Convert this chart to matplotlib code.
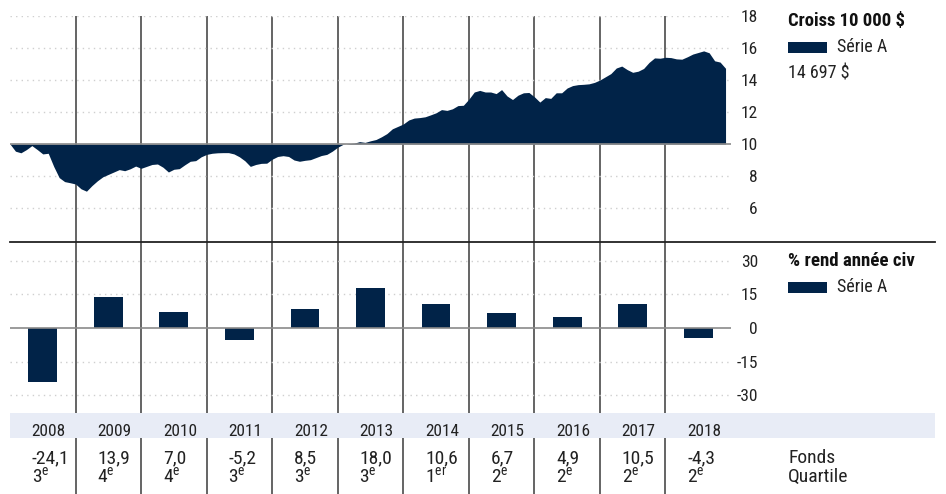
import matplotlib
matplotlib.use("Agg")
import matplotlib.pyplot as plt
from matplotlib import font_manager as fm
from matplotlib.lines import Line2D
from matplotlib.patches import Rectangle

# ---------------- data ----------------
years = [2008, 2009, 2010, 2011, 2012, 2013, 2014, 2015, 2016, 2017, 2018]
annual_returns = [-24.1, 13.9, 7.0, -5.2, 8.5, 18.0, 10.6, 6.7, 4.9, 10.5, -4.3]
return_labels = ["-24,1", "13,9", "7,0", "-5,2", "8,5", "18,0", "10,6", "6,7", "4,9", "10,5", "-4,3"]
quartile_nums = ["3", "4", "4", "3", "3", "3", "1", "2", "2", "2", "2"]
quartile_sups = ["e", "e", "e", "e", "e", "e", "er", "e", "e", "e", "e"]
# growth of 10 000 $ (thousands), monthly from Jan 2008
growth = [
    10.00, 9.55, 9.45, 9.65, 9.90, 9.65, 9.38, 9.42, 8.60, 7.90, 7.65, 7.58,
    7.50, 7.20, 7.05, 7.40, 7.70, 7.95, 8.10, 8.25, 8.40, 8.33, 8.45, 8.62,
    8.48, 8.60, 8.72, 8.75, 8.55, 8.25, 8.42, 8.46, 8.70, 8.92, 8.96, 9.20,
    9.35, 9.42, 9.45, 9.46, 9.46, 9.38, 9.20, 8.95, 8.60, 8.72, 8.79, 8.80,
    9.05, 9.22, 9.27, 9.22, 9.00, 8.92, 8.98, 9.02, 9.15, 9.28, 9.35, 9.55,
    9.80, 9.98, 10.02, 10.05, 10.15, 10.10, 10.20, 10.28, 10.45, 10.65, 10.95, 11.10,
    11.25, 11.50, 11.62, 11.65, 11.70, 11.82, 11.95, 12.15, 12.10, 12.20, 12.40, 12.42,
    12.80, 13.25, 13.35, 13.25, 13.25, 13.15, 13.40, 13.00, 12.78, 13.05, 13.20, 13.22,
    12.95, 12.62, 12.90, 12.85, 13.20, 13.20, 13.50, 13.65, 13.71, 13.73, 13.76, 13.85,
    14.00, 14.20, 14.40, 14.75, 14.87, 14.65, 14.48, 14.55, 14.72, 15.10, 15.38, 15.36,
    15.42, 15.40, 15.32, 15.30, 15.45, 15.62, 15.72, 15.82, 15.70, 15.20, 15.12, 14.73,
]
top_ticks = [6, 8, 10, 12, 14, 16, 18]
bot_ticks = [-30, -15, 0, 15, 30]
title_top = "Croiss 10 000 $"
title_bot = "% rend année civ"
series_name = "Série A"
final_value = "14 697 $"

# ---------------- font choice (prefer a narrow sans) ----------------
installed = {f.name for f in fm.fontManager.ttflist}
narrow = [n for n in ["Roboto Condensed", "Liberation Sans Narrow", "Open Sans Condensed",
                      "Noto Sans Condensed", "DejaVu Sans Condensed"] if n in installed]
stretch = "normal"
if narrow:
    main_font = narrow[0]
    scale = 1.0
elif any(f.name == "DejaVu Sans" and str(f.stretch) in ("condensed", "semi-condensed")
         for f in fm.fontManager.ttflist):
    main_font = "DejaVu Sans"
    stretch = "condensed"
    scale = 0.9
else:
    main_font = "Roboto"
    scale = 0.9

FONT = [main_font, "DejaVu Sans"]
plt.rcParams["font.family"] = FONT
plt.rcParams["font.stretch"] = stretch
plt.rcParams["mathtext.fontset"] = "custom"
plt.rcParams["mathtext.rm"] = main_font
plt.rcParams["mathtext.default"] = "regular"
NAVY = "#012348"
GRID = "#cfcfcf"
TXT = "#222222"

W, H = 946, 494
fig = plt.figure(figsize=(W / 100, H / 100), dpi=100)


def rect(l, t, r, b):
    return [l / W, 1 - b / H, (r - l) / W, (b - t) / H]


def fx(px):
    return px / W


def fy(py):
    return 1 - py / H


X0, X1 = 10, 731
xlim = (2008, 2019)

# overlay axes for vertical separators
ov = fig.add_axes(rect(X0, 16, X1, H), zorder=0)
ov.set_xlim(*xlim)
ov.set_ylim(0, 1)
ov.axis("off")
for y in years[1:]:
    ov.axvline(y, color="#3a3a3a", lw=1.1)

# top axes: growth area
ax1 = fig.add_axes(rect(X0, 16, X1, 242), zorder=1)
ax1.patch.set_alpha(0)
ax1.set_xlim(*xlim)
ax1.set_ylim(3.875, 18)
xm = [years[0] + i / 12 for i in range(len(growth))]
ax1.fill_between(xm, growth, 10, color=NAVY, lw=0, zorder=3)
for t in top_ticks:
    if t != 10:
        ax1.axhline(t, color=GRID, lw=1, ls=(0, (1, 3)), zorder=1)
ax1.axhline(10, color="#8a8a8a", lw=1.2, zorder=4)
ax1.set_yticks(top_ticks)
ax1.set_yticklabels([str(t) for t in top_ticks])
ax1.set_xticks([])
for s in ax1.spines.values():
    s.set_visible(False)

# bottom axes: annual returns
ax2 = fig.add_axes(rect(X0, 242, X1, 412), zorder=1)
ax2.patch.set_alpha(0)
ax2.set_xlim(*xlim)
ax2.set_ylim(-37.5, 38.4)
for t in bot_ticks:
    if t != 0:
        ax2.axhline(t, color=GRID, lw=1, ls=(0, (1, 3)), zorder=1)
ax2.bar([y + 0.5 for y in years], annual_returns, width=0.44, color=NAVY, zorder=3)
ax2.axhline(0, color="#8a8a8a", lw=1.2, zorder=4)
ax2.set_yticks(bot_ticks)
ax2.set_yticklabels([str(t) for t in bot_ticks])
ax2.set_xticks([])
for s in ax2.spines.values():
    s.set_visible(False)

for ax in (ax1, ax2):
    ax.yaxis.tick_right()
    ax.tick_params(axis="y", length=0, pad=19.4, labelsize=12.5 * scale, labelcolor=TXT)
    for lab in ax.get_yticklabels():
        lab.set_horizontalalignment("right")

# separator line between panels
fig.add_artist(Line2D([fx(X0), fx(935)], [fy(242.5), fy(242.5)], color="#222222", lw=1.3))

# legends / titles
fig.text(fx(788), fy(26), title_top, fontsize=13.4 * scale, fontweight="bold", color="#111111",
         va="baseline")
fig.add_artist(Rectangle((fx(788.3), fy(52.7)), fx(826.7) - fx(788.3), fy(41.7) - fy(52.7),
                         transform=fig.transFigure, color=NAVY, lw=0))
fig.text(fx(836.5), fy(52.3), series_name, fontsize=13 * scale, color=TXT, va="baseline")
fig.text(fx(788), fy(79), final_value, fontsize=13 * scale, color=TXT, va="baseline")

fig.text(fx(788), fy(266), title_bot, fontsize=13.6 * scale, fontweight="bold", color="#111111",
         va="baseline")
fig.add_artist(Rectangle((fx(788.3), fy(292.7)), fx(826.7) - fx(788.3), fy(281.7) - fy(292.7),
                         transform=fig.transFigure, color=NAVY, lw=0))
fig.text(fx(836.5), fy(292.5), series_name, fontsize=13 * scale, color=TXT, va="baseline")

# table
tb = fig.add_axes(rect(X0, 412, X1, H), zorder=1)
tb.patch.set_alpha(0)
tb.set_xlim(*xlim)
tb.set_ylim(H, 412)
tb.axis("off")
px_per_year = (X1 - X0) / (xlim[1] - xlim[0])
tb.add_patch(Rectangle((xlim[0], 413), (935 - X0) / px_per_year, 25, color="#e8ecf6", lw=0,
                       clip_on=False, zorder=0))
off = 21.7 / px_per_year
for i, y in enumerate(years):
    tb.text(y + off, 435.7, str(y), fontsize=12.4 * scale, color=TXT, va="baseline", ha="left",
            clip_on=False)
    tb.text(y + off, 463.3, return_labels[i], fontsize=14 * scale, color=TXT, va="baseline",
            ha="left", clip_on=False)
    tb.text(y + off, 481.7, quartile_nums[i] + "$^{" + quartile_sups[i] + "}$",
            fontsize=14 * scale, color=TXT, va="baseline", ha="left", clip_on=False)
xf = xlim[0] + (788 - X0) / px_per_year
tb.text(xf, 463.3, "Fonds", fontsize=14 * scale, color=TXT, va="baseline", ha="left",
        clip_on=False)
tb.text(xf, 481.7, "Quartile", fontsize=14 * scale, color=TXT, va="baseline", ha="left",
        clip_on=False)

fig.savefig("out.png", dpi=100)
